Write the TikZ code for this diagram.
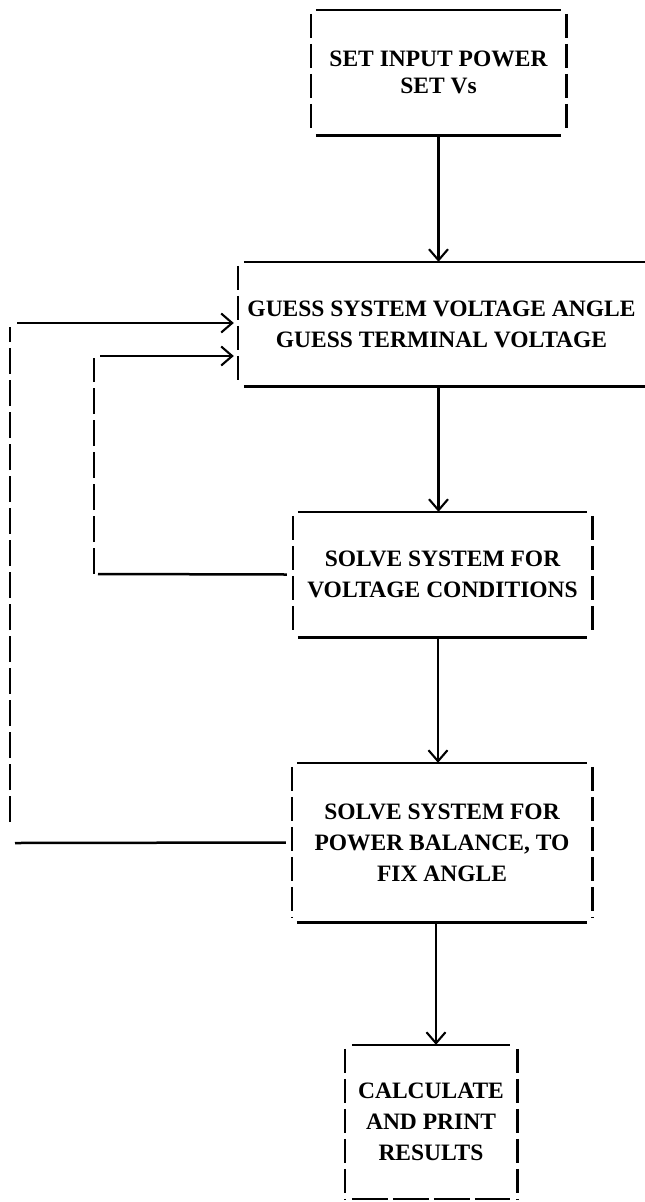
\documentclass[tikz,border=0pt]{standalone}
\usepackage{fontspec}
\setmainfont{Liberation Serif}
\usetikzlibrary{arrows.meta}
\tikzset{
  boxnode/.style={draw=none, inner sep=0pt, align=center,
    font=\bfseries\fontsize{23.5}{31}\selectfont},
  hline/.style={line width=2.6pt},
  vline/.style={line width=2.6pt, dash pattern=on 24pt off 6pt},
  loopline/.style={line width=2.5pt},
  loopdash/.style={line width=2.5pt, dash pattern=on 26pt off 6pt},
  arr/.style={line width=2.1pt, -{Straight Barb[length=11pt,width=19pt,line width=2.1pt]}},
}
\newcommand\fullbox[1]{%
  \draw[hline] ([xshift=5pt]#1.north west) -- ([xshift=-5pt]#1.north east);
  \draw[hline] ([xshift=5pt]#1.south west) -- ([xshift=-5pt]#1.south east);
  \draw[vline] ([yshift=-4pt]#1.north west) -- ([yshift=4pt]#1.south west);
  \draw[vline] ([yshift=-4pt]#1.north east) -- ([yshift=4pt]#1.south east);
}
\begin{document}
\begin{tikzpicture}[x=1pt,y=-1pt]
\useasboundingbox (0,0) rectangle (645,1202);

\node[boxnode, minimum width=255pt, minimum height=125pt,
  font=\bfseries\fontsize{23.5}{27}\selectfont] (b1) at (438.5,72.5)
  {SET INPUT POWER\\SET Vs};
\node[boxnode, minimum width=407pt, minimum height=124pt] (b2) at (441.5,324)
  {GUESS SYSTEM VOLTAGE ANGLE\\GUESS TERMINAL VOLTAGE};
\node[boxnode, minimum width=299pt, minimum height=125pt] (b3) at (442.5,574.5)
  {SOLVE SYSTEM FOR\\VOLTAGE CONDITIONS};
\node[boxnode, minimum width=300pt, minimum height=159pt] (b4) at (442,842.5)
  {SOLVE SYSTEM FOR\\POWER BALANCE, TO\\FIX ANGLE};
\node[boxnode, minimum width=172pt, minimum height=154pt] (b5) at (431,1122)
  {CALCULATE\\AND PRINT\\RESULTS};

% box outlines
\fullbox{b1}
\fullbox{b3}
\fullbox{b4}
% box 2: runs off the right edge
\draw[hline] ([xshift=6pt]b2.north west) -- (b2.north east);
\draw[hline] ([xshift=6pt]b2.south west) -- (b2.south east);
\draw[vline] ([yshift=-4pt]b2.north west) -- ([yshift=4pt]b2.south west);
% box 5: bottom edge dashed
\draw[hline] ([xshift=7pt]b5.north west) -- ([xshift=-7pt]b5.north east);
\draw[line width=2.4pt, dash pattern=on 36pt off 5pt] ([xshift=7pt]b5.south west) -- ([xshift=-7pt]b5.south east);
\draw[vline] ([yshift=-4pt]b5.north west) -- (b5.south west);
\draw[vline] ([yshift=-4pt]b5.north east) -- (b5.south east);

% main flow
\draw[arr] (b1.south) -- (b1.south |- b2.north);
\draw[arr] ([xshift=-4pt]b3.north |- b2.south) -- ([xshift=-4pt]b3.north);
\draw[arr] ([xshift=-4pt]b4.north |- b3.south) -- ([xshift=-4pt]b4.north);
\draw[arr] ([xshift=5pt]b5.north |- b4.south) -- ([xshift=5pt]b5.north);

% outer loop
\coordinate (o1) at (10,843);
\coordinate (o2) at (10,323);
\draw[loopline] ([xshift=-6pt]b4.west) -- ([xshift=5pt]o1);
\draw[loopdash] ([yshift=21pt]o1) -- ([yshift=-4pt]o2);
\draw[arr, line width=2.4pt] ([xshift=7pt]o2) -- ([xshift=-4pt]o2 -| b2.west);

% inner loop
\coordinate (i1) at (94,574);
\coordinate (i2) at (94,356);
\draw[loopline] ([xshift=-6pt]b3.west) -- ([xshift=4pt]i1);
\draw[loopdash] (i1) -- ([yshift=-2pt]i2);
\draw[arr, line width=2.4pt] ([xshift=6pt]i2) -- ([xshift=-4pt]i2 -| b2.west);
\end{tikzpicture}
\end{document}
